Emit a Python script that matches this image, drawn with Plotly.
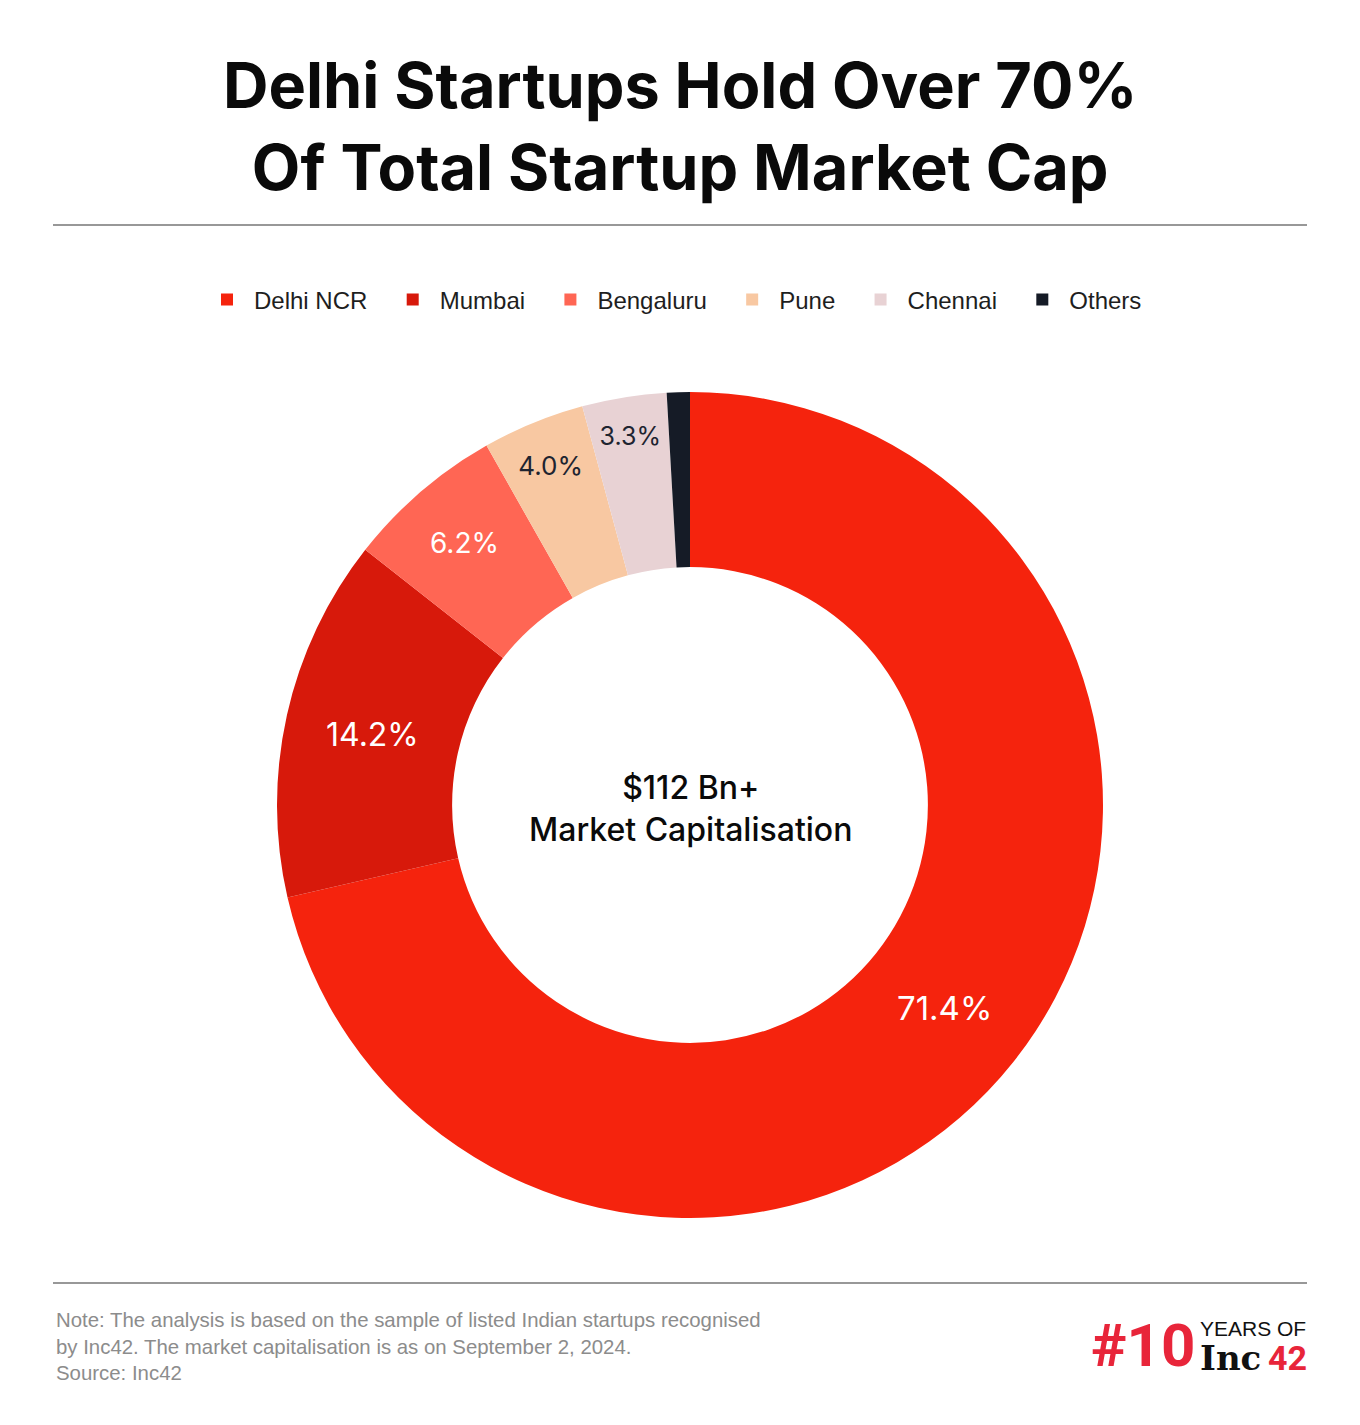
import plotly.graph_objects as go

cities = ["Delhi NCR", "Mumbai", "Bengaluru", "Pune", "Chennai", "Others"]
shares = [71.4, 14.2, 6.2, 4.0, 3.3, 0.9]
colors = ["#F5230D", "#D7190B", "#FF6654", "#F8C8A2", "#E8D2D4", "#151B26"]
label_colors = ["#FFFFFF", "#FFFFFF", "#FFFFFF", "#1E2430", "#1E2430", "#1E2430"]
label_sizes = [33, 32, 28, 26, 25, 1]
labels_text = ["71.4%", "14.2%", "6.2%", "4.0%", "3.3%", ""]

W, H = 1360, 1425
cx, cy, R = 690, 805, 413

legend_names = [c + "\u00a0\u00a0" for c in cities]

fig = go.Figure()
fig.add_trace(go.Pie(
    labels=legend_names, values=shares, text=labels_text,
    texttemplate="%{text}", textinfo="text",
    textposition="inside", insidetextorientation="horizontal",
    textfont=dict(family="Inter", size=label_sizes, color=label_colors),
    marker=dict(colors=colors, line=dict(width=0)),
    hole=0.576, sort=False, direction="clockwise", rotation=0,
    domain=dict(x=[(cx - R) / W, (cx + R) / W], y=[(H - cy - R) / H, (H - cy + R) / H]),
    hoverinfo="skip",
))

fig.update_layout(
    width=W, height=H, margin=dict(l=0, r=0, t=0, b=0),
    paper_bgcolor="white", plot_bgcolor="white",
    showlegend=True,
    legend=dict(orientation="h", x=0.5, xanchor="center", y=1 - 300 / H, yanchor="middle",
                font=dict(family="Liberation Sans, Arial", size=24, color="#1E1E1E"),
                itemwidth=44, bgcolor="rgba(0,0,0,0)"),
)

# title
fig.add_annotation(text="<b>Delhi Startups Hold Over 70%<br>Of Total Startup Market Cap</b>",
                   x=0.5, y=1 - 126 / H, xref="paper", yref="paper", showarrow=False,
                   font=dict(family="Inter", size=63, color="#0A0A0A"), align="center",
                   xanchor="center", yanchor="middle")

# separators
for yy in [225, 1283]:
    fig.add_shape(type="line", xref="paper", yref="paper", x0=53 / W, x1=1307 / W,
                  y0=1 - yy / H, y1=1 - yy / H, line=dict(color="#333333", width=1.2))

# center text
fig.add_annotation(text="$112 Bn+<br>Market Capitalisation", x=cx / W, y=1 - 808 / H,
                   xref="paper", yref="paper", showarrow=False, align="center",
                   font=dict(family="Inter", size=32, color="#0A0A0A", weight=500))

# footer note
fig.add_annotation(text="Note: The analysis is based on the sample of listed Indian startups recognised<br>"
                        "by Inc42. The market capitalisation is as on September 2, 2024.<br>Source: Inc42",
                   x=54 / W, y=1 - 1346 / H, xref="paper", yref="paper", showarrow=False,
                   xanchor="left", yanchor="middle", align="left",
                   font=dict(family="Liberation Sans", size=20.4, color="#8C8C8C"))

# logo
fig.add_annotation(text="<b>#10</b>", x=1197 / W, y=1 - 1345 / H, xref="paper", yref="paper",
                   showarrow=False, xanchor="right", yanchor="middle",
                   font=dict(family="Roboto", size=60, color="#E8253A", weight=900))
fig.add_annotation(text="YEARS OF", x=1198 / W, y=1 - 1328 / H, xref="paper", yref="paper",
                   showarrow=False, xanchor="left", yanchor="middle",
                   font=dict(family="Liberation Sans", size=21, color="#111111"))
fig.add_annotation(text="<b>Inc</b>", x=1198 / W, y=1 - 1358 / H, xref="paper", yref="paper",
                   showarrow=False, xanchor="left", yanchor="middle",
                   font=dict(family="DejaVu Serif", size=34, color="#111111"))
fig.add_annotation(text="<b>42</b>", x=1266 / W, y=1 - 1358 / H, xref="paper", yref="paper",
                   showarrow=False, xanchor="left", yanchor="middle",
                   font=dict(family="Roboto", size=34, color="#E8253A"))

fig.write_html("out.html")
